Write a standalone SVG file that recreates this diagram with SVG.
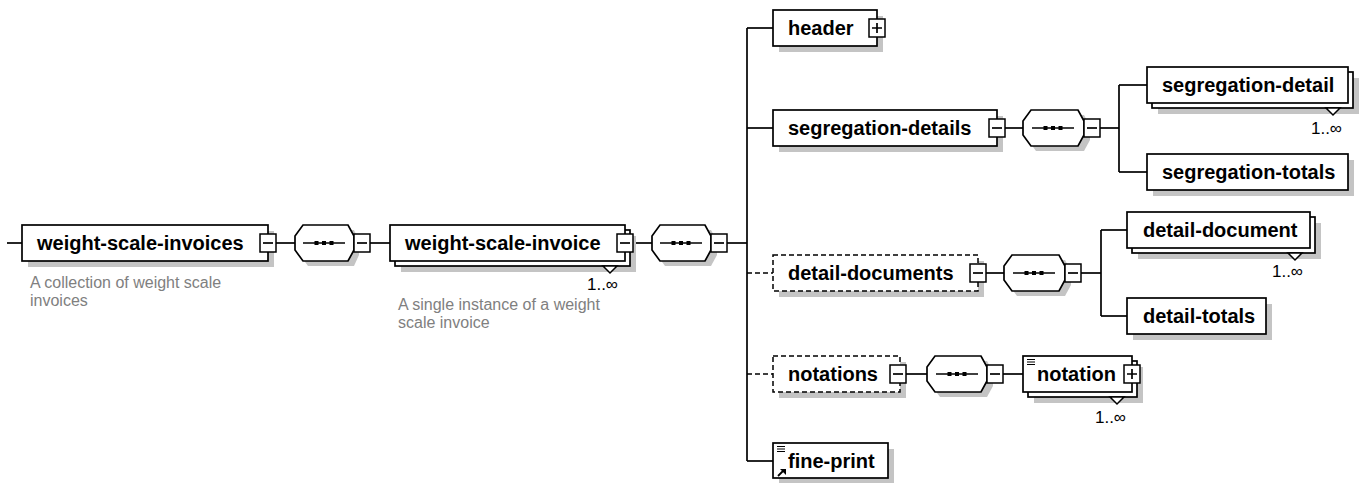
<svg xmlns="http://www.w3.org/2000/svg" width="1366" height="483" viewBox="0 0 1366 483">
<defs>
<style>
.bx{fill:#fff;stroke:#000;stroke-width:1.7}
.dbx{fill:#fff;stroke:#000;stroke-width:1.5;stroke-dasharray:5 3}
.sh{fill:#c4c4c4;stroke:none}
.ln{fill:none;stroke:#000;stroke-width:1.7}
.dln{fill:none;stroke:#000;stroke-width:1.5;stroke-dasharray:5 3}
.btn{fill:#fff;stroke:#000;stroke-width:1.5}
.t{font-family:"Liberation Sans",Arial,sans-serif;font-weight:bold;font-size:20px;fill:#000}
.d{font-family:"Liberation Sans",Arial,sans-serif;font-size:16px;fill:#808080}
.m{font-family:"Liberation Sans",Arial,sans-serif;font-size:17px;fill:#000}
.dot{fill:#000}
</style>
<g id="minusBtn"><rect class="btn" x="0" y="0" width="16" height="18"/><path class="ln" d="M3 9H13"/></g>
<g id="plusBtn"><rect class="btn" x="0" y="0" width="16" height="18"/><path class="ln" d="M3 9H13M8 4V14"/></g>
<g id="seqInner"><path class="ln" d="M-21 0H21"/><rect class="dot" x="-9.5" y="-2" width="4" height="4"/><rect class="dot" x="-2" y="-2" width="4" height="4"/><rect class="dot" x="5.5" y="-2" width="4" height="4"/></g>
<g id="docIcon"><path d="M0 0.5H8M0 3H8M0 5.5H8" stroke="#000" stroke-width="1.1" fill="none"/></g>
</defs>

<g id="connectors">
<path class="ln" d="M7 243H22"/>
<path class="ln" d="M276 243H295"/>
<path class="ln" d="M370 243H390"/>
<path class="ln" d="M633 243H652"/>
<path class="ln" d="M727 243H747"/>
<path class="ln" d="M747 28V461"/>
<path class="ln" d="M747 28H773"/>
<path class="ln" d="M747 128H773"/>
<path class="dln" d="M747 273H773"/>
<path class="dln" d="M747 374H773"/>
<path class="ln" d="M747 461H773"/>
<path class="ln" d="M1005 128H1023"/>
<path class="ln" d="M1100 128H1119"/>
<path class="ln" d="M1119 85V172"/>
<path class="ln" d="M1119 85H1147"/>
<path class="ln" d="M1119 172H1147"/>
<path class="ln" d="M986 273H1004"/>
<path class="ln" d="M1081 273H1101"/>
<path class="ln" d="M1101 230V316"/>
<path class="ln" d="M1101 230H1127"/>
<path class="ln" d="M1101 316H1127"/>
<path class="ln" d="M906 374H927"/>
<path class="ln" d="M1003 374H1023"/>
</g>

<g id="weight-scale-invoices">
<rect class="sh" x="28" y="231" width="246" height="36"/>
<rect class="bx" x="22" y="225" width="246" height="36"/>
<text class="t" x="37" y="250">weight-scale-invoices</text>
<use href="#minusBtn" x="260" y="234"/>
<text class="d" x="30" y="288">A collection of weight scale</text>
<text class="d" x="30" y="306">invoices</text>
</g>

<g id="seq1">
<polygon class="sh" points="308,230 354,230 359,241 359,255 354,266 308,266 300,255 300,241"/>
<polygon class="bx" points="303,225 348,225 354,236 354,250 348,261 303,261 295,250 295,236"/>
<use href="#seqInner" x="324" y="243"/>
<use href="#minusBtn" x="354" y="234"/>
</g>

<g id="weight-scale-invoice">
<rect class="sh" x="401" y="236" width="235" height="36"/>
<rect class="bx" x="395" y="230" width="235" height="36"/>
<rect class="bx" x="390" y="225" width="235" height="36"/>
<text class="t" x="405" y="250">weight-scale-invoice</text>
<use href="#minusBtn" x="617" y="234"/>
<polygon class="btn" points="603,266 617,266 610,273"/>
<text class="m" x="618" y="290" text-anchor="end">1..∞</text>
<text class="d" x="398" y="310">A single instance of a weight</text>
<text class="d" x="398" y="328">scale invoice</text>
</g>

<g id="seq2">
<polygon class="sh" points="665,230 711,230 717,241 717,255 711,266 665,266 657,255 657,241"/>
<polygon class="bx" points="660,225 705,225 711,236 711,250 705,261 660,261 652,250 652,236"/>
<use href="#seqInner" x="681" y="243"/>
<use href="#minusBtn" x="711" y="234"/>
</g>

<g id="header">
<rect class="sh" x="779" y="16" width="104" height="36"/>
<rect class="bx" x="773" y="10" width="104" height="36"/>
<text class="t" x="788" y="35">header</text>
<use href="#plusBtn" x="869" y="19"/>
</g>

<g id="segregation-details">
<rect class="sh" x="779" y="116" width="224" height="36"/>
<rect class="bx" x="773" y="110" width="224" height="36"/>
<text class="t" x="788" y="135">segregation-details</text>
<use href="#minusBtn" x="989" y="119"/>
</g>

<g id="seq3">
<polygon class="sh" points="1036,115 1084,115 1090,126 1090,140 1084,151 1036,151 1028,140 1028,126"/>
<polygon class="bx" points="1031,110 1078,110 1084,121 1084,135 1078,146 1031,146 1023,135 1023,121"/>
<use href="#seqInner" x="1053" y="128"/>
<use href="#minusBtn" x="1084" y="119"/>
</g>

<g id="segregation-detail">
<rect class="sh" x="1158" y="78" width="201" height="36"/>
<rect class="bx" x="1152" y="72" width="201" height="36"/>
<rect class="bx" x="1147" y="67" width="201" height="36"/>
<text class="t" x="1162" y="92">segregation-detail</text>
<polygon class="btn" points="1326,108 1340,108 1333,115"/>
<text class="m" x="1342" y="134" text-anchor="end">1..∞</text>
</g>

<g id="segregation-totals">
<rect class="sh" x="1153" y="160" width="201" height="36"/>
<rect class="bx" x="1147" y="154" width="201" height="36"/>
<text class="t" x="1162" y="179">segregation-totals</text>
</g>

<g id="detail-documents">
<rect class="sh" x="779" y="261" width="205" height="36"/>
<rect class="dbx" x="773" y="255" width="205" height="36"/>
<text class="t" x="788" y="280">detail-documents</text>
<use href="#minusBtn" x="970" y="264"/>
</g>

<g id="seq4">
<polygon class="sh" points="1017,260 1065,260 1071,271 1071,285 1065,296 1017,296 1009,285 1009,271"/>
<polygon class="bx" points="1012,255 1059,255 1065,266 1065,280 1059,291 1012,291 1004,280 1004,266"/>
<use href="#seqInner" x="1034" y="273"/>
<use href="#minusBtn" x="1065" y="264"/>
</g>

<g id="detail-document">
<rect class="sh" x="1138" y="223" width="183" height="36"/>
<rect class="bx" x="1132" y="217" width="183" height="36"/>
<rect class="bx" x="1127" y="212" width="183" height="36"/>
<text class="t" x="1143" y="237">detail-document</text>
<polygon class="btn" points="1288,253 1302,253 1295,260"/>
<text class="m" x="1303" y="277" text-anchor="end">1..∞</text>
</g>

<g id="detail-totals">
<rect class="sh" x="1133" y="304" width="139" height="36"/>
<rect class="bx" x="1127" y="298" width="139" height="36"/>
<text class="t" x="1143" y="323">detail-totals</text>
</g>

<g id="notations">
<rect class="sh" x="779" y="362" width="127" height="36"/>
<rect class="dbx" x="773" y="356" width="127" height="36"/>
<text class="t" x="788" y="381">notations</text>
<use href="#minusBtn" x="890" y="365"/>
</g>

<g id="seq5">
<polygon class="sh" points="940,361 987,361 993,372 993,386 987,397 940,397 932,386 932,372"/>
<polygon class="bx" points="935,356 981,356 987,367 987,381 981,392 935,392 927,381 927,367"/>
<use href="#seqInner" x="957" y="374"/>
<use href="#minusBtn" x="987" y="365"/>
</g>

<g id="notation">
<rect class="sh" x="1034" y="367" width="109" height="36"/>
<rect class="bx" x="1028" y="361" width="109" height="36"/>
<rect class="bx" x="1023" y="356" width="109" height="36"/>
<use href="#docIcon" x="1027" y="359"/>
<text class="t" x="1037" y="381">notation</text>
<use href="#plusBtn" x="1124" y="365"/>
<polygon class="btn" points="1110,397 1124,397 1117,404"/>
<text class="m" x="1126" y="423" text-anchor="end">1..∞</text>
</g>

<g id="fine-print">
<rect class="sh" x="779" y="449" width="115" height="35"/>
<rect class="bx" x="773" y="443" width="115" height="35"/>
<use href="#docIcon" x="777" y="446"/>
<path d="M778 476L784 470" stroke="#000" stroke-width="1.8" fill="none"/>
<polygon points="780,469 786,469 786,475" fill="#000"/>
<text class="t" x="788" y="468">fine-print</text>
</g>
</svg>
